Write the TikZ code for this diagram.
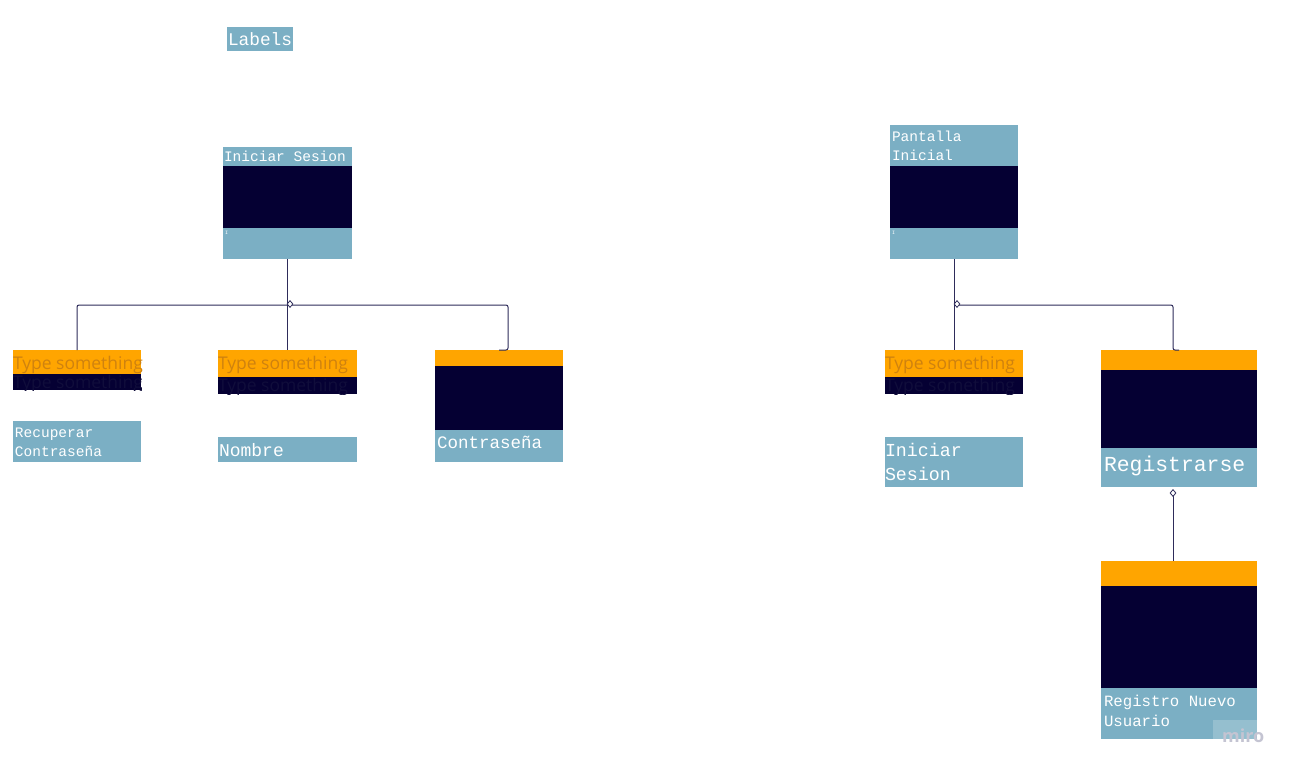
\documentclass[tikz,border=0pt]{standalone}
\usepackage{fontspec}
\setmonofont{Liberation Mono}
\newfontfamily\osans{Open Sans}
\usetikzlibrary{shapes.geometric}
\definecolor{lb}{HTML}{7BAFC4}
\definecolor{nv}{HTML}{050033}
\definecolor{og}{HTML}{FFA500}
\definecolor{ogt}{HTML}{CF820F}
\definecolor{dkt}{HTML}{100D3B}
\definecolor{ln}{HTML}{2E2C5A}
\definecolor{wm}{HTML}{C4C4D2}
\begin{document}
\begin{tikzpicture}[x=1pt,y=-1pt,
  band/.style={inner sep=0pt,outer sep=0pt,anchor=north west,draw=none},
  mono/.style={inner sep=0pt,outer sep=0pt,anchor=base west,text=white,font=\ttfamily\fontsize{#1}{#1}\selectfont},
  tsor/.style={inner sep=0pt,outer sep=0pt,anchor=base west,text=ogt,font=\osans\fontsize{17.5}{17.5}\selectfont},
  tsdk/.style={inner sep=0pt,outer sep=0pt,anchor=base west,text=dkt,font=\osans\fontsize{17.5}{17.5}\selectfont},
  conn/.style={draw=ln,line width=1pt,rounded corners=2pt},
  dia/.style={draw=ln,fill=white,line width=0.8pt,diamond,minimum width=6pt,minimum height=7pt,inner sep=0pt}
]
\useasboundingbox (0,0) rectangle (1294,772);
\fill[white] (0,0) rectangle (1294,772);

% Labels
\node[band,fill=lb,minimum width=66pt,minimum height=24pt] (lab) at (227,27) {};
\node[mono=17.8] (labt) at (228,45) {Labels};

% Iniciar Sesion (top left)
\node[band,fill=lb,minimum width=129pt,minimum height=19pt] (ist) at (223,147) {};
\node[band,fill=nv,minimum width=129pt,minimum height=62pt] (isd) at (223,166) {};
\node[band,fill=lb,minimum width=129pt,minimum height=31pt] (isb) at (223,228) {};
\node[mono=14.5] (istt) at (224,161) {Iniciar Sesion};
\node[mono=5] (isi) at (225,234) {I};

% Left child 1
\node[band,fill=nv,minimum width=128pt,minimum height=16pt] (c1d) at (13,374) {};
\begin{scope}
\clip (13,374) rectangle (141,390);
\node[tsdk] (c1dt) at (13,388) {Type something};
\end{scope}
\node[band,fill=og,minimum width=128pt,minimum height=24pt] (c1) at (13,350) {};
\node[tsor] (c1t) at (13,369) {Type something};
\node[band,fill=lb,minimum width=128pt,minimum height=41pt] (rc) at (13,421) {};
\node[mono=14.5] (rct1) at (15,437) {Recuperar};
\node[mono=14.5] (rct2) at (15,456) {Contraseña};

% Left child 2
\node[band,fill=nv,minimum width=139pt,minimum height=17pt] (c2d) at (218,377) {};
\begin{scope}
\clip (218,377) rectangle (357,394);
\node[tsdk] (c2dt) at (218,391) {Type something};
\end{scope}
\node[band,fill=og,minimum width=139pt,minimum height=27pt] (c2) at (218,350) {};
\node[tsor] (c2t) at (218,369) {Type something};
\node[band,fill=lb,minimum width=139pt,minimum height=25pt] (nb) at (218,437) {};
\node[mono=18] (nbt) at (219,456) {Nombre};

% Left child 3
\node[band,fill=og,minimum width=128pt,minimum height=16pt] (c3) at (435,350) {};
\node[band,fill=nv,minimum width=128pt,minimum height=64pt] (c3d) at (435,366) {};
\node[band,fill=lb,minimum width=128pt,minimum height=32pt] (c3b) at (435,430) {};
\node[mono=17.5] (c3t) at (437,448) {Contraseña};

% Pantalla Inicial
\node[band,fill=lb,minimum width=128pt,minimum height=41pt] (pit) at (890,125) {};
\node[band,fill=nv,minimum width=128pt,minimum height=62pt] (pid) at (890,166) {};
\node[band,fill=lb,minimum width=128pt,minimum height=31pt] (pib) at (890,228) {};
\node[mono=14.5] (pit1) at (892,141) {Pantalla};
\node[mono=14.5] (pit2) at (892,160) {Inicial};
\node[mono=5] (pii) at (892,234) {I};

% Right child 1
\node[band,fill=nv,minimum width=138pt,minimum height=17pt] (r1d) at (885,377) {};
\begin{scope}
\clip (885,377) rectangle (1023,394);
\node[tsdk] (r1dt) at (885,391) {Type something};
\end{scope}
\node[band,fill=og,minimum width=138pt,minimum height=27pt] (r1) at (885,350) {};
\node[tsor] (r1t) at (885,369) {Type something};
\node[band,fill=lb,minimum width=138pt,minimum height=50pt] (ris) at (885,437) {};
\node[mono=18.3] (rist1) at (885,456) {Iniciar};
\node[mono=18.3] (rist2) at (885,480) {Sesion};

% Registrarse
\node[band,fill=og,minimum width=156pt,minimum height=20pt] (rg) at (1101,350) {};
\node[band,fill=nv,minimum width=156pt,minimum height=78pt] (rgd) at (1101,370) {};
\node[band,fill=lb,minimum width=156pt,minimum height=39pt] (rgb) at (1101,448) {};
\node[mono=21.4] (rgt) at (1104,471) {Registrarse};

% Registro Nuevo Usuario
\node[band,fill=og,minimum width=156pt,minimum height=25pt] (rn) at (1101,561) {};
\node[band,fill=nv,minimum width=156pt,minimum height=102pt] (rnd) at (1101,586) {};
\node[band,fill=lb,minimum width=156pt,minimum height=51pt] (rnb) at (1101,688) {};
\node[mono=15.7] (rnt1) at (1104,706) {Registro Nuevo};
\node[mono=15.7] (rnt2) at (1104,726) {Usuario};

% watermark
\node[band,fill=white,fill opacity=0.2,minimum width=44pt,minimum height=20pt] (mw) at (1213,720) {};
\node[inner sep=0pt,anchor=base west,text=wm,font=\osans\bfseries\fontsize{18}{18}\selectfont] (mwt) at (1222,742) {miro};

% connectors left
\coordinate (j1) at (288,305);
\coordinate (k1) at (508,305);
\coordinate (k2) at (508,350);
\draw[conn] (isb.south) -- (c2.north);
\draw[conn] (j1) -| (c1.north);
\draw[conn] (j1) -- (k1) -- (k2) -- (c3.north);
\node[dia] (d1) at (290,304) {};

% connectors right
\coordinate (j2) at (954,305);
\coordinate (k3) at (1173,305);
\coordinate (k4) at (1173,350);
\draw[conn] (pib.south) -- (r1.north);
\draw[conn] (j2) -- (k3) -- (k4) -- (rg.north);
\node[dia] (d2) at (957,304) {};

\coordinate (d3c) at (1173,493);
\coordinate (rnt) at (1173,561);
\draw[conn] (d3c) -- (rnt);
\node[dia] (d3) at (d3c) {};
\end{tikzpicture}
\end{document}
